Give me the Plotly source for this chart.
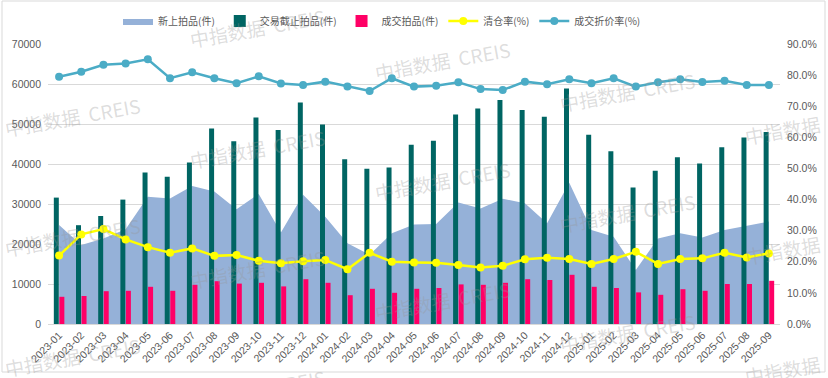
import plotly.graph_objects as go

months = ['2023-01', '2023-02', '2023-03', '2023-04', '2023-05', '2023-06', '2023-07', '2023-08',
          '2023-09', '2023-10', '2023-11', '2023-12', '2024-01', '2024-02', '2024-03', '2024-04',
          '2024-05', '2024-06', '2024-07', '2024-08', '2024-09', '2024-10', '2024-11', '2024-12',
          '2025-01', '2025-02', '2025-03', '2025-04', '2025-05', '2025-06', '2025-07', '2025-08',
          '2025-09']

new_listed = [24750, 19750, 21400, 23700, 31800, 31400, 34500, 33100, 28700, 32500, 22900,
              32300, 26800, 20200, 17300, 22700, 24900, 25000, 30400, 28900, 31300, 30200,
              25200, 35300, 23500, 21800, 13500, 21400, 22700, 21600, 23500, 24500, 25600]

deadline = [31600, 24700, 27000, 31100, 37900, 36800, 40400, 48900, 45700, 51600, 48500,
            55400, 49900, 41200, 38800, 39100, 44800, 45800, 52400, 53900, 56000, 53500,
            51800, 58900, 47300, 43200, 34100, 38300, 41700, 40100, 44200, 46600, 48000]

sold = [6800, 7000, 8200, 8300, 9300, 8300, 9800, 10700, 10100, 10300, 9400, 11200, 10300,
        7200, 8800, 7800, 8800, 9000, 9900, 9800, 10300, 11200, 11000, 12300, 9300, 9000,
        7900, 7300, 8700, 8300, 10000, 10000, 10800]

clearance_pct = [22.0, 28.8, 30.5, 27.2, 24.7, 22.9, 24.3, 21.9, 22.2, 20.3, 19.5, 20.2, 20.6,
                 17.6, 22.9, 20.0, 19.8, 19.7, 19.0, 18.2, 18.7, 20.8, 21.3, 20.9, 19.3, 20.9,
                 23.2, 19.3, 20.9, 21.1, 22.9, 21.4, 22.7]

discount_pct = [79.5, 81.1, 83.3, 83.7, 85.1, 79.0, 80.9, 79.0, 77.4, 79.6, 77.3, 76.8, 77.9,
                76.3, 74.9, 79.0, 76.3, 76.6, 77.7, 75.5, 75.2, 77.9, 77.1, 78.7, 77.4, 79.0,
                76.3, 77.7, 78.7, 77.8, 78.2, 76.8, 76.8]

names = ['新上拍品(件)', '交易截止拍品(件)', '成交拍品(件)', '清仓率(%)', '成交折价率(%)']

TXT = '#595959'
GRID = '#d9d9d9'
FONT = 'Noto Sans CJK SC'

fig = go.Figure()
fig.add_trace(go.Scatter(x=months, y=new_listed, name=names[0], mode='lines',
                         line=dict(width=0, color='#95B1D8'), fill='tozeroy',
                         fillcolor='#95B1D8', yaxis='y'))
fig.add_trace(go.Bar(x=months, y=deadline, name=names[1], marker_color='#006563',
                     marker_line_width=0, yaxis='y2'))
fig.add_trace(go.Bar(x=months, y=sold, name=names[2], marker_color='#FF0066',
                     marker_line_width=0, yaxis='y2'))
fig.add_trace(go.Scatter(x=months, y=[v / 100 for v in clearance_pct], name=names[3],
                         mode='lines+markers', line=dict(color='#FFFF00', width=2.5),
                         marker=dict(size=8, color='#FFFF00'), yaxis='y3'))
fig.add_trace(go.Scatter(x=months, y=[v / 100 for v in discount_pct], name=names[4],
                         mode='lines+markers', line=dict(color='#4BACC6', width=2.5),
                         marker=dict(size=8, color='#4BACC6'), yaxis='y3'))

L, R, T, B = 48, 48, 44, 54
W, H = 828, 378
pw, ph = W - L - R, H - T - B


def px(x):
    return (x - L) / pw


def py(y):
    return (H - B - y) / ph


annotations = []
for k in range(5):
    xc = 72 + 185 * k
    yb = 116 + 32 * k
    for r in range(-2, 3):
        yc = yb + 120 * r
        if 10 <= yc <= 392:
            annotations.append(dict(text='中指数据  CREIS', x=px(xc), y=py(yc), xref='paper',
                                    yref='paper', xanchor='center', yanchor='middle',
                                    showarrow=False, textangle=-10,
                                    font=dict(family=FONT, size=19,
                                              color='rgba(150,150,150,0.33)')))

tickfont = dict(family='Liberation Sans', size=10.5, color=TXT)

fig.update_layout(
    width=W, height=H,
    margin=dict(l=L, r=R, t=T, b=B, pad=0, autoexpand=False),
    paper_bgcolor='white', plot_bgcolor='white',
    barmode='group', bargap=0.5, bargroupgap=0.1,
    showlegend=True,
    legend=dict(orientation='h', x=px(382), xanchor='center', y=py(21), yanchor='middle',
                font=dict(family=FONT, size=10, color=TXT), bgcolor='rgba(0,0,0,0)',
                itemwidth=30, tracegroupgap=0),
    xaxis=dict(type='category', tickangle=-45, showgrid=False, showline=True,
               linecolor=GRID, linewidth=1, ticks='', range=[-0.5, len(months) - 0.5],
               automargin=False, tickfont=tickfont),
    yaxis=dict(range=[0, 70000], dtick=10000, tickformat='d', showgrid=True, gridcolor=GRID,
               gridwidth=1, zeroline=False, showline=False, ticks='', ticklabelstandoff=6,
               automargin=False, tickfont=tickfont),
    yaxis2=dict(range=[0, 70000], overlaying='y', visible=False, automargin=False),
    yaxis3=dict(range=[0, 0.9], dtick=0.1, tickformat='.1%', overlaying='y', side='right',
                showgrid=False, zeroline=False, showline=False, ticks='',
                ticklabelstandoff=6, automargin=False, tickfont=tickfont),
    annotations=annotations,
    shapes=[dict(type='rect', xref='paper', yref='paper', x0=px(2), x1=px(825), y0=py(372),
                 y1=py(1), line=dict(color=GRID, width=1), fillcolor='rgba(0,0,0,0)',
                 layer='below')],
)

fig.write_html('out.html', config={'displayModeBar': False},
               post_script="document.body.style.margin='0px';"
                           "document.body.style.overflow='hidden';")
